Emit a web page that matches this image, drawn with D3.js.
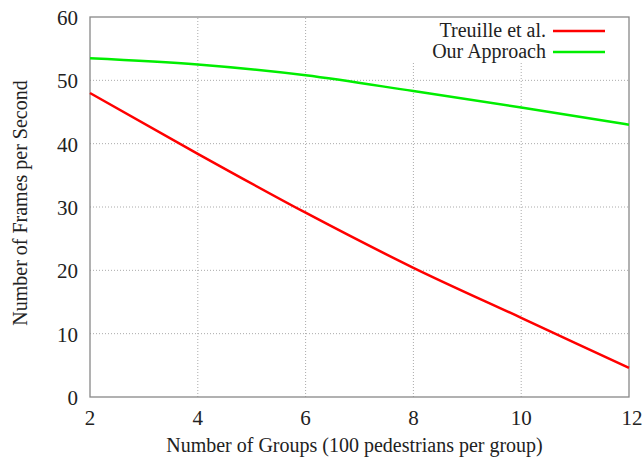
<!DOCTYPE html>
<html>
<head>
<meta charset="utf-8">
<script src="https://cdn.jsdelivr.net/npm/d3@7"></script>
<style>
  body { margin: 0; background: #fff; }
  text { font-family: "Liberation Serif", "Times New Roman", serif; fill: #222; }
</style>
</head>
<body>
<div class="content"></div>
<script>
var groups = [2, 4, 6, 8, 10, 12];
var treuille = [48, 38.4, 29.1, 20.4, 12.5, 4.6];
var ourApproach = [53.5, 52.5, 50.8, 48.3, 45.7, 43];
var xTicks = [2, 4, 6, 8, 10, 12];
var yTicks = [0, 10, 20, 30, 40, 50, 60];

var width = 643, height = 461;
var plotLeft = 90, plotRight = 629, plotTop = 17, plotBottom = 397;

var svg = d3.select(".content").append("svg")
   .attr("width", width)
   .attr("height", height);

var x = d3.scaleLinear().domain([2, 12]).range([plotLeft, plotRight]);
var y = d3.scaleLinear().domain([0, 60]).range([plotBottom, plotTop]);

// grid
svg.selectAll(".vgrid")
   .data(xTicks.slice(1, -1))
   .enter().append("line")
   .attr("x1", d => x(d)).attr("x2", d => x(d))
   .attr("y1", plotBottom).attr("y2", d => x(d) > 400 ? 62 : plotTop)
   .attr("stroke", "#aaa")
   .attr("stroke-width", 1)
   .attr("stroke-dasharray", "1,2");

svg.selectAll(".hgrid")
   .data(yTicks.slice(1, -1))
   .enter().append("line")
   .attr("x1", plotLeft).attr("x2", plotRight)
   .attr("y1", d => y(d)).attr("y2", d => y(d))
   .attr("stroke", "#aaa")
   .attr("stroke-width", 1)
   .attr("stroke-dasharray", "1,2");

// frame
svg.append("rect")
   .attr("x", plotLeft).attr("y", plotTop)
   .attr("width", plotRight - plotLeft).attr("height", plotBottom - plotTop)
   .attr("fill", "none")
   .attr("stroke", "#888")
   .attr("stroke-width", 1.3);

// tick labels
svg.selectAll(".xt")
   .data(xTicks)
   .enter().append("text")
   .attr("x", d => x(d) + (d == 12 ? 3 : 0))
   .attr("y", plotBottom + 28)
   .attr("text-anchor", "middle")
   .attr("font-size", "21px")
   .text(d => d);

svg.selectAll(".yt")
   .data(yTicks)
   .enter().append("text")
   .attr("x", plotLeft - 12)
   .attr("y", d => y(d) + 8)
   .attr("text-anchor", "end")
   .attr("font-size", "21px")
   .text(d => d);

// axis titles
svg.append("text")
   .attr("x", (plotLeft + plotRight) / 2 - 5)
   .attr("y", 452)
   .attr("text-anchor", "middle")
   .attr("font-size", "20px")
   .text("Number of Groups (100 pedestrians per group)");

svg.append("text")
   .attr("transform", "translate(27," + ((plotTop + plotBottom) / 2 - 4) + ") rotate(-90)")
   .attr("text-anchor", "middle")
   .attr("font-size", "20px")
   .text("Number of Frames per Second");

// lines
var line = d3.line()
   .x((d, i) => x(groups[i]))
   .y(d => y(d))
   .curve(d3.curveMonotoneX);

var series = [
   { name: "Treuille et al.", values: treuille, color: "#ff0000" },
   { name: "Our Approach", values: ourApproach, color: "#00ee00" }
];

series.forEach(function(s, i) {
   svg.append("path")
      .attr("d", line(s.values))
      .attr("fill", "none")
      .attr("stroke", s.color)
      .attr("stroke-width", 2.5);

   // legend
   var ly = 31 + i * 21;
   svg.append("text")
      .attr("x", 546)
      .attr("y", ly + 6)
      .attr("text-anchor", "end")
      .attr("font-size", "20px")
      .text(s.name);
   svg.append("line")
      .attr("x1", 553).attr("x2", 605)
      .attr("y1", ly).attr("y2", ly)
      .attr("stroke", s.color)
      .attr("stroke-width", 2.5);
});
</script>
</body>
</html>
